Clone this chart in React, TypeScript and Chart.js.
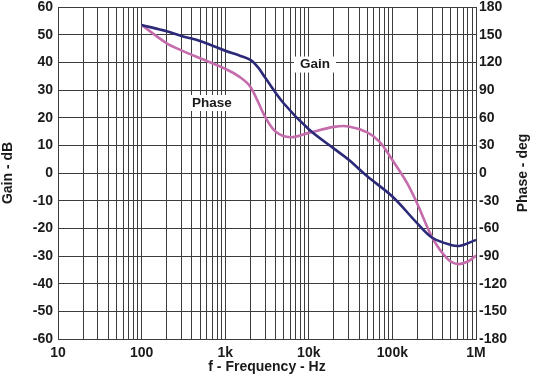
import React, { useEffect, useRef } from "react";
import { Chart, registerables } from "chart.js";

Chart.register(...registerables);

const gainFreq = [100, 200, 300, 500, 1000, 1500, 2000, 2500, 3000, 5000, 10000, 20000, 30000, 50000, 100000, 200000, 300000, 500000, 650000, 1000000];
const gainDb = [53.5, 51.2, 49.5, 47.7, 44.2, 42.4, 40.9, 38.0, 34.5, 25.2, 15.8, 8.8, 4.8, -1.2, -8.5, -18.3, -23.4, -26.0, -26.3, -24.2];

const phaseFreq = [100, 200, 300, 500, 1000, 1500, 2000, 3000, 4000, 6000, 10000, 20000, 30000, 50000, 70000, 100000, 150000, 200000, 300000, 450000, 600000, 800000, 1000000];
const phaseDeg = [160.5, 140.6, 133, 124.4, 113, 104, 93.6, 61, 45, 38.7, 43.5, 50, 50.5, 44, 34, 14, -11, -34, -70, -92.5, -98.7, -96, -89.5];

const xTickValues = [10, 20, 30, 40, 50, 60, 70, 80, 90, 100, 200, 300, 400, 500, 600, 700, 800, 900, 1000, 2000, 3000, 4000, 5000, 6000, 7000, 8000, 9000, 10000, 20000, 30000, 40000, 50000, 60000, 70000, 80000, 90000, 100000, 200000, 300000, 400000, 500000, 600000, 700000, 800000, 900000, 1000000];
const xDecadeLabels: Record<number, string> = { 10: "10", 100: "100", 1000: "1k", 10000: "10k", 100000: "100k", 1000000: "1M" };

const curveLabels = [
  { text: "Gain", f: 11860, db: 39.2 },
  { text: "Phase", f: 695, db: 25.3 },
];

const FONT = "'Liberation Sans', Arial, sans-serif";
const GRID = "#3c3c3c";

export default function App() {
  const ref = useRef<HTMLCanvasElement>(null);
  useEffect(() => {
    document.body.style.margin = "0";
    const canvas = ref.current!;
    const labelPlugin = {
      id: "labels",
      afterDraw(chart: any) {
        const ctx = chart.ctx;
        const xs = chart.scales.x;
        const ys = chart.scales.y;
        ctx.save();
        ctx.font = `bold 13.5px ${FONT}`;
        ctx.textAlign = "center";
        ctx.textBaseline = "middle";
        for (const l of curveLabels) {
          const px = xs.getPixelForValue(l.f);
          const py = ys.getPixelForValue(l.db);
          const w = ctx.measureText(l.text).width;
          ctx.fillStyle = "#ffffff";
          ctx.fillRect(px - w / 2 - 6, py - 8, w + 12, 16);
          ctx.fillStyle = "#1a1a1a";
          ctx.fillText(l.text, px, py);
        }
        const area = chart.chartArea;
        ctx.translate(523, (area.top + area.bottom) / 2);
        ctx.rotate(-Math.PI / 2);
        ctx.font = `bold 14px ${FONT}`;
        ctx.fillStyle = "#1a1a1a";
        ctx.fillText("Phase - deg", 0, 0);
        ctx.restore();
      },
    };
    const chart = new Chart(canvas, {
      type: "line",
      data: {
        datasets: [
          {
            label: "Gain",
            data: gainFreq.map((f, i) => ({ x: f, y: gainDb[i] })),
            borderColor: "#2c2a78",
            borderWidth: 2.6,
            pointRadius: 0,
            tension: 0.35,
            yAxisID: "y",
          },
          {
            label: "Phase",
            data: phaseFreq.map((f, i) => ({ x: f, y: phaseDeg[i] })),
            borderColor: "#c46cac",
            borderWidth: 2.6,
            pointRadius: 0,
            tension: 0.35,
            yAxisID: "y2",
          },
        ],
      },
      options: {
        responsive: false,
        animation: false,
        layout: { padding: { top: 0, left: 0, right: 0, bottom: 0 } },
        plugins: { legend: { display: false }, tooltip: { enabled: false } },
        scales: {
          x: {
            type: "logarithmic",
            min: 10,
            max: 1000000,
            afterBuildTicks(scale: any) {
              scale.ticks = xTickValues.map((v) => ({ value: v }));
            },
            afterFit(scale: any) {
              scale.height = 35;
            },
            ticks: {
              autoSkip: false,
              maxRotation: 0,
              padding: 6,
              color: "#1a1a1a",
              font: { family: FONT, size: 14, weight: "bold" },
              callback: (v: any) => xDecadeLabels[Number(v)] ?? "",
            },
            grid: { color: GRID, lineWidth: 1, drawTicks: false },
            border: { color: GRID, width: 1 },
            title: {
              display: true,
              text: "f - Frequency - Hz",
              color: "#1a1a1a",
              font: { family: FONT, size: 14, weight: "bold", lineHeight: 1 },
              padding: { top: 0, bottom: 0 },
            },
          },
          y: {
            position: "left",
            min: -60,
            max: 60,
            afterFit(scale: any) {
              scale.width = 58;
              scale.paddingTop = 7;
              scale.paddingBottom = 0;
            },
            ticks: {
              stepSize: 10,
              padding: 5,
              color: "#1a1a1a",
              font: { family: FONT, size: 14, weight: "bold", lineHeight: 1 },
            },
            grid: { color: GRID, lineWidth: 1, drawTicks: false },
            border: { color: GRID, width: 1 },
            title: {
              display: true,
              text: "Gain - dB",
              color: "#1a1a1a",
              font: { family: FONT, size: 14, weight: "bold", lineHeight: 1 },
              padding: { top: 1, bottom: 0 },
            },
          },
          y2: {
            position: "right",
            min: -180,
            max: 180,
            afterFit(scale: any) {
              scale.width = 61;
              scale.paddingTop = 7;
              scale.paddingBottom = 0;
            },
            ticks: {
              stepSize: 30,
              padding: 3,
              color: "#1a1a1a",
              font: { family: FONT, size: 14, weight: "bold", lineHeight: 1 },
            },
            grid: { display: false, drawTicks: false },
            border: { color: GRID, width: 1 },
          },
        },
      },
      plugins: [labelPlugin],
    } as any);
    return () => chart.destroy();
  }, []);
  return (
    <div style={{ width: 537, height: 374, background: "#fff" }}>
      <canvas ref={ref} width={537} height={374} style={{ width: 537, height: 374, display: "block" }} />
    </div>
  );
}
